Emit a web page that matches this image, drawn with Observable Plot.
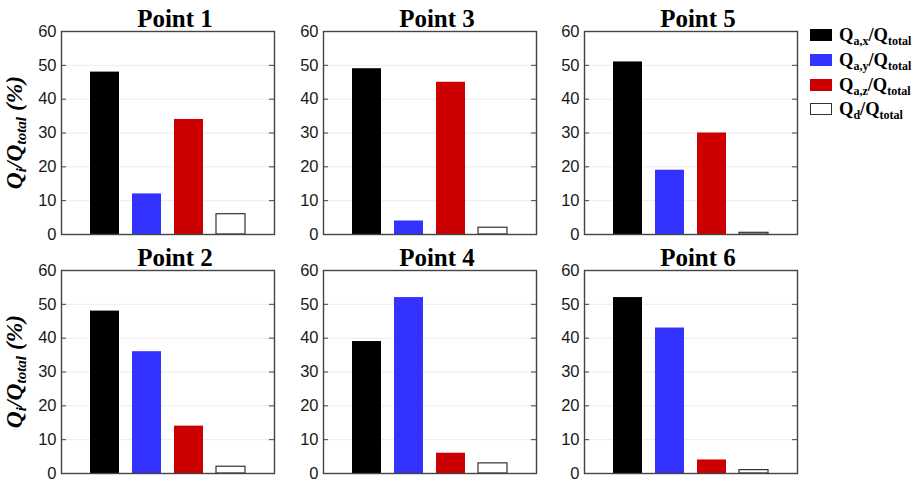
<!DOCTYPE html>
<html><head><meta charset="utf-8">
<script src="https://cdn.jsdelivr.net/npm/d3@7"></script>
<script src="https://cdn.jsdelivr.net/npm/@observablehq/plot@0.6"></script>
<style>
body{margin:0;background:#fff;}
#root{position:relative;width:917px;height:482px;overflow:hidden;background:#fff;}
.panel{position:absolute;}
.panel svg{overflow:visible;}
#overlay{position:absolute;left:0;top:0;pointer-events:none;}
</style></head><body><div id="root"></div>
<script>
// ---- data ----
const categories = ["Qa,x", "Qa,y", "Qa,z", "Qd"];
const point1 = [48, 12, 34, 6];
const point2 = [48, 36, 14, 2];
const point3 = [49, 4, 45, 2];
const point4 = [39, 52, 6, 3];
const point5 = [51, 19, 30, 0.5];
const point6 = [52, 43, 4, 1];
const pointTitles = ["Point 1", "Point 2", "Point 3", "Point 4", "Point 5", "Point 6"];
const yTicks = [0, 10, 20, 30, 40, 50, 60];
const legendSubs = ["a,x", "a,y", "a,z", "d"];
const barColors = ["#000000", "#3333ff", "#cc0000", "#ffffff"];

// ---- layout ----
const root = document.getElementById("root");
const plotW = 213, plotH = 203, mL = 40, mR = 8, mT = 30, mB = 8;
const colLeft = [61, 323, 584];
const rowTop = [31, 270];
const panels = [
  {title: pointTitles[0], values: point1, col: 0, row: 0},
  {title: pointTitles[2], values: point3, col: 1, row: 0},
  {title: pointTitles[4], values: point5, col: 2, row: 0},
  {title: pointTitles[1], values: point2, col: 0, row: 1},
  {title: pointTitles[3], values: point4, col: 1, row: 1},
  {title: pointTitles[5], values: point6, col: 2, row: 1}
];

for (const p of panels) {
  const data = categories.map((c, i) => ({cat: c, value: p.values[i]}));
  const chart = Plot.plot({
    width: mL + plotW + mR,
    height: mT + plotH + mB,
    marginLeft: mL, marginRight: mR, marginTop: mT, marginBottom: mB,
    style: {fontFamily: "'Liberation Sans', Arial, sans-serif", fontSize: "16.5px", color: "#1a1a1a", background: "transparent", overflow: "visible"},
    x: {type: "band", domain: categories, paddingInner: 0.32, paddingOuter: 0.656, axis: null},
    y: {domain: [0, 60], ticks: yTicks},
    color: {domain: categories, range: barColors},
    marks: [
      Plot.ruleY(yTicks.slice(1, -1), {stroke: "#ececec", strokeWidth: 1}),
      Plot.barY(data, {x: "cat", y: "value", fill: "cat"}),
      Plot.barY(data.filter(d => d.cat === categories[3]), {x: "cat", y: "value", fill: "none", stroke: "#333", strokeWidth: 1.2}),
      Plot.ruleY(yTicks, {stroke: "#444", strokeWidth: 1, insetRight: plotW - 5}),
      Plot.ruleY(yTicks, {stroke: "#444", strokeWidth: 1, insetLeft: plotW - 5}),
      Plot.axisY({ticks: yTicks, tickSize: 0, tickPadding: 5, label: null}),
      Plot.frame({stroke: "#444", strokeWidth: 1.4}),
      Plot.text([p.title], {frameAnchor: "top", dx: 7, dy: -5, lineAnchor: "bottom", fontFamily: "'Liberation Serif', 'Times New Roman', serif", fontWeight: "bold", fontSize: 25, fill: "#000"})
    ]
  });
  const div = document.createElement("div");
  div.className = "panel";
  div.style.left = (colLeft[p.col] - mL) + "px";
  div.style.top = (rowTop[p.row] - mT) + "px";
  div.appendChild(chart);
  root.appendChild(div);
}

// ---- overlay: y labels and legend ----
const svg = d3.select(root).append("svg").attr("id", "overlay").attr("width", 917).attr("height", 482);
for (const r of rowTop) {
  const cy = r + plotH / 2;
  const t = svg.append("text")
    .attr("transform", `translate(22,${cy}) rotate(-90)`)
    .attr("text-anchor", "middle")
    .attr("font-family", "'Liberation Serif', 'Times New Roman', serif")
    .attr("font-weight", "bold").attr("font-style", "italic").attr("font-size", 23.5).attr("fill", "#000");
  t.append("tspan").text("Q");
  t.append("tspan").attr("font-size", 15).attr("dy", 4).text("i");
  t.append("tspan").attr("dy", -4).text("/Q");
  t.append("tspan").attr("font-size", 15).attr("dy", 4).text("total");
  t.append("tspan").attr("dy", -4).text(" (%)");
}
const legendY = [35, 60, 85, 109];
legendSubs.forEach((s, i) => {
  const cy = legendY[i];
  svg.append("rect").attr("x", 810.5).attr("y", cy - 5.5).attr("width", 21).attr("height", 11)
    .attr("fill", barColors[i]).attr("stroke", i === 3 ? "#333" : barColors[i]).attr("stroke-width", 1);
  const t = svg.append("text").attr("x", 839).attr("y", cy + 5.5)
    .attr("font-family", "'Liberation Serif', 'Times New Roman', serif")
    .attr("font-weight", "bold").attr("font-size", 18.5).attr("fill", "#000");
  t.append("tspan").text("Q");
  t.append("tspan").attr("font-size", 12).attr("dy", 4).text(s);
  t.append("tspan").attr("dy", -4).text("/Q");
  t.append("tspan").attr("font-size", 12).attr("dy", 4).text("total");
});
</script>
</body></html>
